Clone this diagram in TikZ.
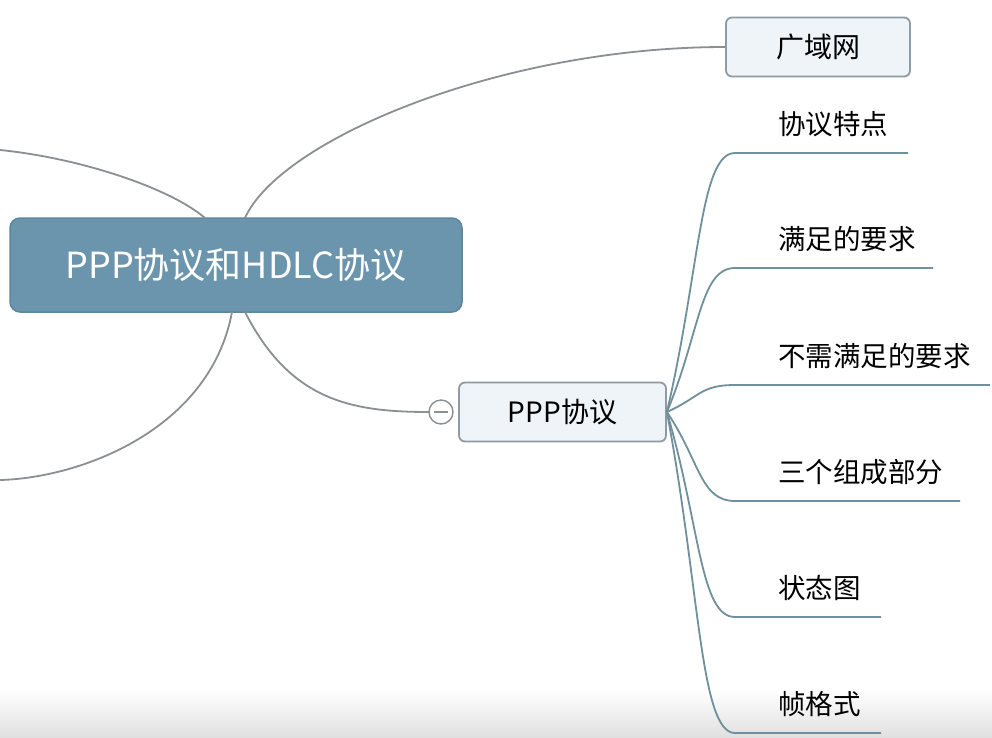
\documentclass[tikz,border=0pt]{standalone}
\usepackage{fontspec}
\setmainfont{Noto Sans CJK SC}
\definecolor{hubfill}{HTML}{6A95AD}
\definecolor{hubedge}{HTML}{5E879E}
\definecolor{boxfill}{HTML}{EFF4F8}
\definecolor{boxedge}{HTML}{8E9BA4}
\definecolor{mainline}{HTML}{8A8F93}
\definecolor{subline}{HTML}{6F909C}
\tikzset{
  hub/.style={draw=hubedge, line width=1.5pt, fill=hubfill, rounded corners=10pt,
    minimum width=452pt, minimum height=94pt, text=white, font=\fontsize{36}{40}\selectfont},
  topic/.style={draw=boxedge, line width=1.8pt, fill=boxfill, rounded corners=6pt,
    minimum height=59pt, font=\fontsize{28}{32}\selectfont},
  leaf/.style={anchor=west, inner sep=0pt, font=\fontsize{27.5}{30}\selectfont},
  mainconn/.style={draw=mainline, line width=1.8pt},
  subconn/.style={draw=subline, line width=1.8pt}
}
\begin{document}
\begin{tikzpicture}[x=1pt,y=-1pt]
  \useasboundingbox (0,0) rectangle (992,737);
  \clip (0,0) rectangle (992,737);
  \fill[white] (0,0) rectangle (992,737);
  \shade[top color=white, bottom color=black!12] (0,690) rectangle (992,737);

  % main topic and its branches
  \node[hub] (hub) at (236,265) {PPP协议和HDLC协议};
  \node[topic, minimum width=184pt] (wan) at (818,47) {广域网};
  \node[topic, minimum width=207pt] (ppp) at (562.5,412) {PPP协议};
  \draw[draw=mainline, line width=1.4pt, fill=white] (441,412) circle (12pt);
  \draw[mainline, line width=1.4pt] (434,412) -- (448,412);
  \coordinate (fold) at (429,412);
  \coordinate (left1) at (0,150);
  \coordinate (left2) at (0,480);

  \draw[mainconn] (245,218) .. controls (280,140) and (500,47) .. (wan.west);
  \draw[mainconn] (left1) .. controls (80,158) and (170,188) .. (205,218);
  \draw[mainconn] (232,312) .. controls (210,430) and (80,478) .. (left2);
  \draw[mainconn] (245,312) .. controls (290,400) and (350,412) .. (fold);

  % sub topics of PPP
  \foreach \i/\yy/\xe/\txt in {1/153/908/协议特点, 2/268/933/满足的要求,
      3/385/990/不需满足的要求, 4/501/960/三个组成部分,
      5/617/881/状态图, 6/733/881/帧格式} {
    \node[leaf] (k\i) at (778,\yy-29) {\txt};
    \coordinate (s\i) at (735,\yy);
    \coordinate (e\i) at (\xe,\yy);
    \draw[subconn] (ppp.east) .. controls (700,412+0.55*\yy-0.55*412) and (700,\yy) .. (s\i) -- (e\i);
  }
\end{tikzpicture}
\end{document}
